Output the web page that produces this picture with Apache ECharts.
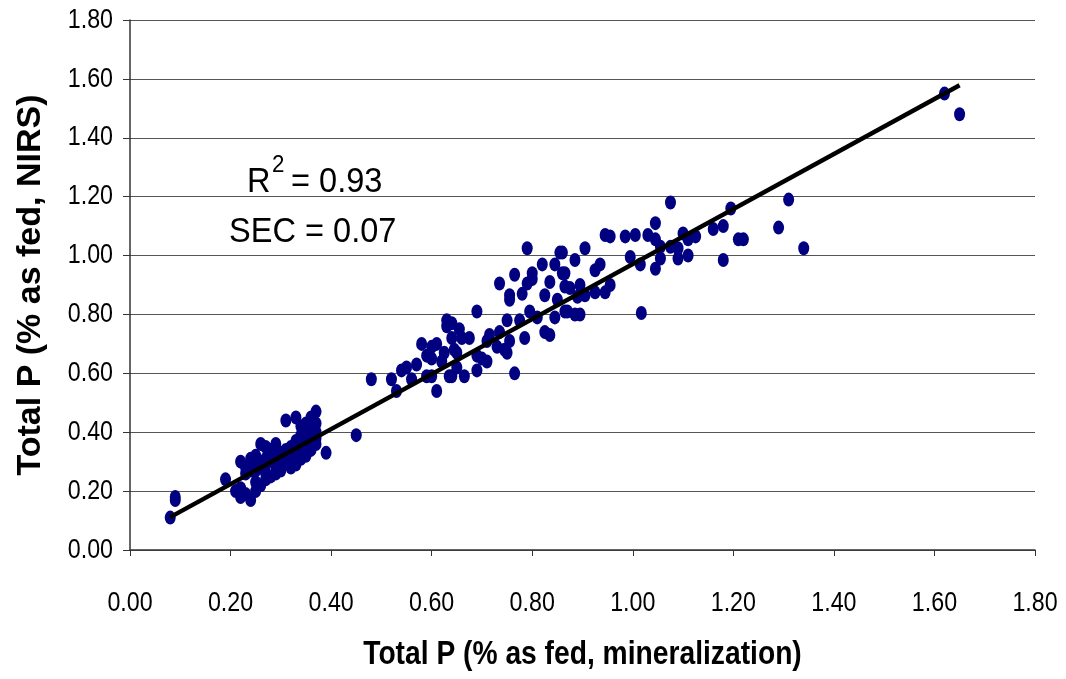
<!DOCTYPE html>
<html>
<head>
<meta charset="utf-8">
<script src="https://cdn.jsdelivr.net/npm/echarts@6/dist/echarts.min.js"></script>
<style>
  html, body { margin: 0; padding: 0; background: #fff; }
  #chart { width: 1066px; height: 679px; }
</style>
</head>
<body>
<div id="chart"></div>
<script>
// Tick values (both axes)
const axisTicks = [0, 0.2, 0.4, 0.6, 0.8, 1.0, 1.2, 1.4, 1.6, 1.8];

// Axis titles
const xTitle = 'Total P (% as fed, mineralization)';
const yTitle = 'Total P (% as fed, NIRS)';

// Total P by mineralization (x) and by NIRS (y), % as fed
const mineralization = [
  0.08, 0.09, 0.09,
  0.19, 0.21, 0.22, 0.24, 0.22, 0.23,
  0.22, 0.23, 0.23, 0.24, 0.24, 0.25, 0.25, 0.25, 0.26, 0.26, 0.26, 0.27, 0.27, 0.27,
  0.28, 0.28, 0.28, 0.29, 0.29, 0.29, 0.30, 0.30, 0.30, 0.31, 0.31, 0.31, 0.32, 0.32, 0.32,
  0.33, 0.33, 0.33, 0.33, 0.34, 0.34, 0.34, 0.34, 0.34, 0.35, 0.35, 0.35, 0.35, 0.35,
  0.36, 0.36, 0.36, 0.36, 0.36, 0.37, 0.37, 0.37, 0.37, 0.37, 0.27, 0.24, 0.29,
  0.26, 0.27, 0.25,
  0.39, 0.45, 0.48,
  0.52, 0.53, 0.54, 0.55, 0.56, 0.58, 0.59, 0.59, 0.60, 0.61, 0.60, 0.61, 0.62, 0.63, 0.64,
  0.64, 0.64, 0.645, 0.655, 0.65, 0.665, 0.66, 0.675, 0.69, 0.69, 0.69, 0.70, 0.71, 0.71,
  0.715, 0.73, 0.735, 0.745, 0.75, 0.75, 0.755, 0.765, 0.775, 0.785, 0.795, 0.81, 0.825,
  0.835, 0.845, 0.87, 0.885, 0.895, 0.625, 0.65, 0.635, 0.63, 0.60, 0.57, 0.755,
  0.735, 0.755, 0.765, 0.79, 0.79, 0.80, 0.82, 0.825, 0.835, 0.845, 0.85, 0.855, 0.86,
  0.80, 0.78,
  0.86, 0.885, 0.905, 0.865, 0.865, 0.875, 0.895, 0.89, 0.905, 0.865, 0.925, 0.935, 0.925,
  0.945, 0.955, 0.945, 0.955, 0.985, 1.005, 1.03, 1.045, 1.045, 1.055, 0.995, 1.015, 1.045,
  1.055, 1.075, 1.075, 1.09, 1.09, 1.10, 1.11, 1.11, 1.125, 1.16, 1.18, 1.195, 1.18, 1.21,
  1.22, 1.29, 1.31, 1.34, 1.017,
  1.62, 1.65
];
const nirs = [
  0.11, 0.17, 0.18,
  0.24, 0.20, 0.18, 0.17, 0.21, 0.19,
  0.30, 0.28, 0.26, 0.31, 0.29, 0.32, 0.27, 0.23, 0.36, 0.30, 0.28, 0.31, 0.29, 0.26,
  0.34, 0.32, 0.25, 0.36, 0.30, 0.28, 0.33, 0.31, 0.27, 0.44, 0.34, 0.30, 0.35, 0.32, 0.28,
  0.45, 0.37, 0.34, 0.29, 0.42, 0.39, 0.36, 0.33, 0.31, 0.43, 0.40, 0.37, 0.35, 0.32,
  0.45, 0.42, 0.39, 0.36, 0.34, 0.47, 0.43, 0.40, 0.38, 0.36, 0.35, 0.27, 0.26,
  0.22, 0.24, 0.20,
  0.33, 0.39, 0.58,
  0.58, 0.54, 0.61, 0.62, 0.58, 0.70, 0.59, 0.66, 0.69, 0.70, 0.59, 0.54, 0.64, 0.78, 0.77,
  0.72, 0.59, 0.68, 0.75, 0.62, 0.59, 0.72, 0.72, 0.81, 0.66, 0.61, 0.65, 0.71, 0.64,
  0.73, 0.69, 0.74, 0.68, 0.67, 0.78, 0.71, 0.60, 0.78, 0.72, 0.81, 0.79, 0.74,
  0.73, 0.79, 0.81, 0.80, 0.80, 0.67, 0.67, 0.59, 0.76, 0.65, 0.63, 0.85,
  0.905, 0.865, 0.935, 1.025, 0.905, 0.94, 0.97, 0.865, 0.91, 0.97, 0.85, 1.01, 0.94,
  0.92, 0.87,
  1.01, 0.985, 1.025, 0.94, 0.895, 0.89, 0.90, 0.86, 0.865, 0.81, 0.95, 0.97, 0.875,
  0.875, 0.90, 1.07, 1.065, 1.065, 1.07, 1.07, 1.11, 1.055, 1.03, 0.995, 0.97, 0.955,
  0.99, 1.18, 1.03, 1.025, 0.99, 1.075, 1.055, 1.00, 1.065, 1.09, 1.10, 1.16, 0.985, 1.055,
  1.055, 1.095, 1.19, 1.025, 0.805,
  1.55, 1.48
];

// Fitted line as drawn in the reference
const fitSlope = 0.934;
const fitIntercept = 0.037;

// Annotation texts
const r2Text = '= 0.93';
const secText = 'SEC = 0.07';

// ---- build data / fit ----
const points = mineralization.map((x, i) => [x, nirs[i]]);
const xMin = Math.min(...mineralization), xMax = Math.max(...mineralization);
const fitLine = [[xMin, fitIntercept + fitSlope * xMin], [xMax, fitIntercept + fitSlope * xMax]];

const sans = '"Liberation Sans", Arial, Helvetica, sans-serif';
const squeeze = 0.83;   // the reference's horizontal text is condensed

const chart = echarts.init(document.getElementById('chart'), null, { renderer: 'canvas' });
chart.setOption({
  animation: false,
  backgroundColor: '#ffffff',
  grid: { left: 130, right: 31, top: 20, bottom: 129, containLabel: false },
  xAxis: {
    type: 'value',
    min: axisTicks[0], max: axisTicks[axisTicks.length - 1], interval: 0.2,
    axisLine: { show: true, onZero: false, lineStyle: { color: '#333', width: 1.5 } },
    axisTick: { show: true, inside: false, length: 6, lineStyle: { color: '#333' } },
    axisLabel: { show: false },
    splitLine: { show: false }
  },
  yAxis: {
    type: 'value',
    min: axisTicks[0], max: axisTicks[axisTicks.length - 1], interval: 0.2,
    name: yTitle,
    nameLocation: 'middle', nameGap: 82, nameRotate: 90,
    nameTextStyle: { fontFamily: sans, fontWeight: 'bold', fontSize: 34, color: '#000' },
    axisLine: { show: true, onZero: false, lineStyle: { color: '#333', width: 1.5 } },
    axisTick: { show: true, inside: false, length: 7, lineStyle: { color: '#333' } },
    axisLabel: { show: false },
    splitLine: { show: true, lineStyle: { color: '#555', width: 1.2 } }
  },
  series: [
    {
      type: 'scatter',
      data: points,
      symbol: 'circle',
      symbolSize: [11, 14],
      itemStyle: { color: '#000080', opacity: 1 },
      z: 2
    },
    {
      type: 'line',
      data: fitLine,
      symbol: 'none',
      lineStyle: { color: '#000', width: 4.5 },
      z: 3
    }
  ]
});

// ---- condensed tick labels / titles, positioned through the axes' own scales ----
const x0 = chart.convertToPixel({ xAxisIndex: 0 }, axisTicks[0]);
const x1 = chart.convertToPixel({ xAxisIndex: 0 }, axisTicks[axisTicks.length - 1]);
const yBase = chart.convertToPixel({ yAxisIndex: 0 }, axisTicks[0]);
const fmt = v => v.toFixed(2);
const graphics = [];
axisTicks.forEach(v => {
  graphics.push({
    type: 'text', x: chart.convertToPixel({ xAxisIndex: 0 }, v), y: yBase + 39,
    scaleX: squeeze, silent: true,
    style: { text: fmt(v), fontFamily: sans, fontSize: 28, fill: '#000', align: 'center', verticalAlign: 'top' }
  });
  graphics.push({
    type: 'text', x: x0 - 17, y: chart.convertToPixel({ yAxisIndex: 0 }, v),
    scaleX: squeeze, silent: true,
    style: { text: fmt(v), fontFamily: sans, fontSize: 28, fill: '#000', align: 'right', verticalAlign: 'middle' }
  });
});
graphics.push({
  type: 'text', x: (x0 + x1) / 2, y: yBase + 88, scaleX: squeeze, silent: true,
  style: { text: xTitle, fontFamily: sans, fontWeight: 'bold', fontSize: 34, fill: '#000', align: 'center', verticalAlign: 'top' }
});
// R² annotation
graphics.push({
  type: 'text', x: 247, y: 182, scaleX: 0.93, silent: true, z: 10,
  style: { text: 'R', fontFamily: sans, fontSize: 35, fill: '#000', align: 'left', verticalAlign: 'middle' }
});
graphics.push({
  type: 'text', x: 272, y: 165, scaleX: 0.93, silent: true, z: 10,
  style: { text: '2', fontFamily: sans, fontSize: 24, fill: '#000', align: 'left', verticalAlign: 'middle' }
});
graphics.push({
  type: 'text', x: 291, y: 182, scaleX: 0.93, silent: true, z: 10,
  style: { text: r2Text, fontFamily: sans, fontSize: 35, fill: '#000', align: 'left', verticalAlign: 'middle' }
});
// SEC annotation
graphics.push({
  type: 'text', x: 229, y: 232, scaleX: 0.93, silent: true, z: 10,
  style: { text: secText, fontFamily: sans, fontSize: 35, fill: '#000', align: 'left', verticalAlign: 'middle' }
});
chart.setOption({ graphic: graphics });
</script>
</body>
</html>
